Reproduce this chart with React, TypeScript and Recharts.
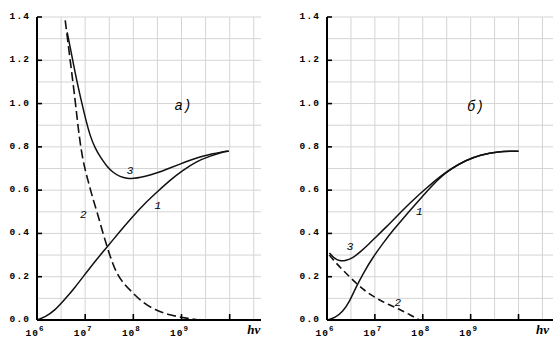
import React from "react";
import { LineChart, Line, XAxis, YAxis, ReferenceLine, ReferenceDot } from "recharts";

// x is log10(hν); ticks 10^6 … 10^10
const xTicks = [6, 7, 8, 9, 10];
const yTicks = [0, 0.2, 0.4, 0.6, 0.8, 1.0, 1.2, 1.4];
const gridX = [6.5, 7, 7.5, 8, 8.5, 9, 9.5, 10, 10.5];
const gridY = [0.1, 0.2, 0.3, 0.4, 0.5, 0.6, 0.7, 0.8, 0.9, 1.0, 1.1, 1.2, 1.3, 1.4];

// panel a)
const a1 = [
  [6.0, 0.0], [6.17, 0.014], [6.38, 0.046], [6.586, 0.097], [6.793, 0.152], [7.0, 0.212],
  [7.207, 0.272], [7.455, 0.337], [7.725, 0.411], [7.973, 0.475], [8.242, 0.54], [8.511, 0.595],
  [8.76, 0.646], [9.029, 0.692], [9.319, 0.734], [9.588, 0.757], [9.836, 0.775], [9.981, 0.78],
];
const a2 = [
  [6.586, 1.384], [6.689, 1.2], [6.793, 1.015], [6.855, 0.886], [6.917, 0.785], [6.979, 0.711],
  [7.062, 0.642], [7.145, 0.572], [7.248, 0.498], [7.352, 0.415], [7.455, 0.337], [7.559, 0.268],
  [7.662, 0.212], [7.807, 0.166], [7.973, 0.129], [8.18, 0.083], [8.449, 0.046], [8.76, 0.023],
  [9.07, 0.009], [9.38, 0.0],
];
const a3 = [
  [6.627, 1.329], [6.71, 1.237], [6.793, 1.14], [6.865, 1.066], [6.932, 1.001], [7.01, 0.928],
  [7.104, 0.849], [7.207, 0.794], [7.311, 0.754], [7.445, 0.711], [7.58, 0.681], [7.725, 0.662],
  [7.87, 0.654], [8.014, 0.654], [8.139, 0.658], [8.346, 0.669], [8.553, 0.684], [8.698, 0.697],
  [8.967, 0.72], [9.236, 0.743], [9.443, 0.757], [9.629, 0.767], [9.795, 0.775], [9.981, 0.78],
];

// panel б)
const b1 = [
  [6.0, 0.0], [6.17, 0.01], [6.33, 0.038], [6.47, 0.085], [6.61, 0.154], [6.78, 0.225],
  [6.96, 0.29], [7.17, 0.355], [7.38, 0.415], [7.6, 0.472], [7.79, 0.52], [8.0, 0.573],
  [8.21, 0.625], [8.4, 0.665], [8.6, 0.7], [8.9, 0.738], [9.2, 0.762], [9.56, 0.779], [10.0, 0.78],
];
const b2 = [
  [6.05, 0.3], [6.2, 0.26], [6.4, 0.215], [6.68, 0.154], [6.9, 0.118], [7.1, 0.092],
  [7.3, 0.07], [7.51, 0.05], [7.7, 0.028], [7.93, 0.0],
];
const b3 = [
  [6.05, 0.31], [6.15, 0.285], [6.26, 0.272], [6.4, 0.274], [6.54, 0.287], [6.7, 0.315],
  [6.89, 0.354], [7.05, 0.39], [7.24, 0.43], [7.45, 0.478], [7.65, 0.523], [7.85, 0.565],
  [8.07, 0.608], [8.35, 0.662], [8.6, 0.7], [8.9, 0.738], [9.2, 0.762], [9.56, 0.779], [10.0, 0.78],
];

// annotations: [x, y, text, size]
const notesA: [number, number, string, number][] = [
  [7.93, 0.69, "3", 11], [8.51, 0.526, "1", 11], [6.96, 0.485, "2", 11], [9.03, 0.99, "a)", 14],
];
const notesB: [number, number, string, number][] = [
  [6.48, 0.337, "3", 11], [7.93, 0.498, "1", 11], [7.48, 0.078, "2", 11], [9.1, 0.983, "б)", 14],
];

const pts = (arr: number[][]) => arr.map(([x, y]) => ({ x, y }));

const mono = "'Liberation Mono', 'DejaVu Sans Mono', monospace";
const gridColor = "#d4d4d4";

const XTick = (props: any) => {
  const { x, y, payload } = props;
  const v = payload.value;
  return (
    <g>
      <line x1={x} x2={x} y1={y} y2={y - 6} stroke="#000" strokeWidth={1.6} />
      {v < 10 ? (
        <text x={x - 2} y={y + 16} textAnchor="middle" fontFamily={mono} fontWeight="bold" fontSize={9.5} letterSpacing={1} fill="#000">
          10
          <tspan dy={-5} fontSize={7.5}>{v}</tspan>
        </text>
      ) : (
        <text x={x + 24} y={y + 14} textAnchor="middle" fontFamily="'Liberation Serif', serif" fontStyle="italic" fontWeight="bold" fontSize={13} fill="#000">
          hν
        </text>
      )}
    </g>
  );
};

const YTick = (props: any) => {
  const { x, y, payload } = props;
  return (
    <g>
      <line x1={x} x2={x + 5} y1={y} y2={y} stroke="#000" strokeWidth={1.6} />
      <text x={x - 7} y={y + 2} textAnchor="end" fontFamily={mono} fontWeight="bold" fontSize={9.5} letterSpacing={1.1} fill="#000">
        {Number(payload.value).toFixed(1)}
      </text>
    </g>
  );
};

function Panel({ curves, notes, marginLeft, marginRight, xMax, dash }: any) {
  return (
    <LineChart width={278} height={343} margin={{ top: 17, right: marginRight, bottom: 0, left: marginLeft }}>
      <XAxis
        type="number"
        dataKey="x"
        domain={[6, xMax]}
        ticks={xTicks}
        height={23}
        tickSize={0}
        tickMargin={0}
        tickLine={false}
        axisLine={{ stroke: "#000", strokeWidth: 2 }}
        tick={(p: any) => <XTick {...p} />}
        allowDataOverflow
      />
      <YAxis
        type="number"
        domain={[0, 1.4]}
        ticks={yTicks}
        width={30}
        tickSize={0}
        tickMargin={0}
        tickLine={false}
        axisLine={{ stroke: "#000", strokeWidth: 2 }}
        tick={(p: any) => <YTick {...p} />}
        allowDataOverflow
      />
      {gridX.map((v) => (
        <ReferenceLine
          key={"gx" + v}
          x={v}
          ifOverflow="visible"
          shape={(p: any) => <line x1={p.x1} y1={p.y1} x2={p.x2} y2={p.y2} stroke={gridColor} strokeWidth={1} />}
        />
      ))}
      {gridY.map((v) => (
        <ReferenceLine
          key={"gy" + v}
          y={v}
          ifOverflow="visible"
          shape={(p: any) => <line x1={p.x1} y1={p.y1} x2={p.x2} y2={p.y2} stroke={gridColor} strokeWidth={1} />}
        />
      ))}
      <Line data={pts(curves[0])} dataKey="y" type="basis" stroke="#111" strokeWidth={1.5} dot={false} isAnimationActive={false} />
      <Line data={pts(curves[1])} dataKey="y" type="basis" stroke="#111" strokeWidth={1.6} strokeDasharray={dash} dot={false} isAnimationActive={false} />
      <Line data={pts(curves[2])} dataKey="y" type="basis" stroke="#111" strokeWidth={1.5} dot={false} isAnimationActive={false} />
      {notes.map(([nx, ny, t, s]: any, i: number) => (
        <ReferenceDot
          key={i}
          x={nx}
          y={ny}
          r={0}
          ifOverflow="visible"
          shape={(p: any) => (
            <text x={p.cx} y={p.cy} textAnchor="middle" dominantBaseline="central" fontFamily={mono} fontStyle="italic" fontSize={s} fill="#000">
              {t}
            </text>
          )}
        />
      ))}
    </LineChart>
  );
}

export default function App() {
  return (
    <div style={{ position: "absolute", left: 0, top: 0, width: 556, height: 343, background: "#fff", display: "flex" }}>
      <Panel curves={[a1, a2, a3]} notes={notesA} marginLeft={7} marginRight={17} xMax={10.65} dash="9 4" />
      <Panel curves={[b1, b2, b3]} notes={notesB} marginLeft={19} marginRight={3} xMax={10.72} dash="7 4" />
    </div>
  );
}
